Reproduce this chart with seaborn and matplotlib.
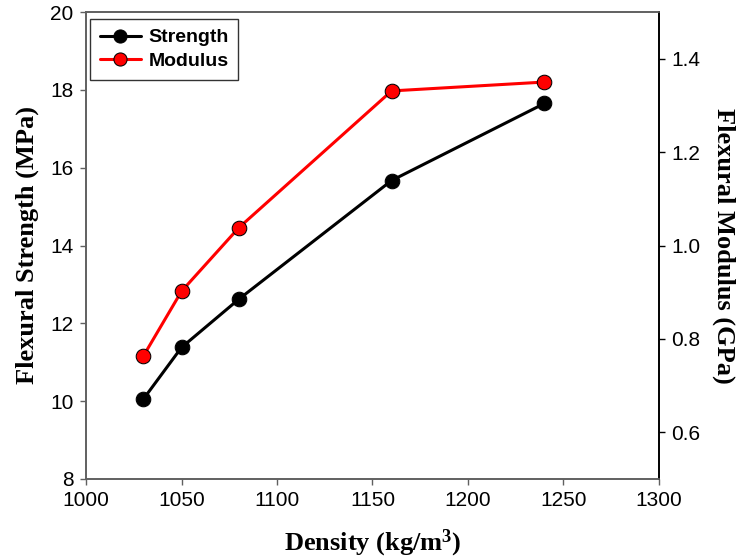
import matplotlib
matplotlib.use("Agg")
import matplotlib.pyplot as plt
import seaborn as sns
import pandas as pd

density = [1030, 1050, 1080, 1160, 1240]
strength = [10.05, 11.38, 12.62, 15.67, 17.65]
modulus = [0.763, 0.902, 1.038, 1.331, 1.350]

sns.set_style("ticks")
plt.rcParams['font.family'] = ['Liberation Sans', 'DejaVu Sans']
plt.rcParams['mathtext.fontset'] = 'custom'
plt.rcParams['mathtext.rm'] = 'Liberation Serif:bold'
plt.rcParams['mathtext.it'] = 'Liberation Serif:bold'
plt.rcParams['mathtext.bf'] = 'Liberation Serif:bold'
plt.rcParams['text.color'] = 'black'
plt.rcParams['axes.labelcolor'] = 'black'

fig = plt.figure(figsize=(7.38, 5.6), dpi=100)
ax = fig.add_axes([86/738, 1-479/560, 573/738, 467/560])
ax2 = ax.twinx()

df = pd.DataFrame({"Density": density, "Strength": strength, "Modulus": modulus})

sns.lineplot(data=df, x="Density", y="Strength", ax=ax, color="black", lw=2.2,
             marker="o", markersize=10.5, markerfacecolor="black", markeredgecolor="black",
             label="Strength", legend=False)
sns.lineplot(data=df, x="Density", y="Modulus", ax=ax2, color="#ff0000", lw=2.2,
             marker="o", markersize=10.5, markerfacecolor="#ff0000", markeredgecolor="black",
             label="Modulus", legend=False)

ax.set_xlim(1000, 1300)
ax.set_ylim(8, 20)
ax2.set_ylim(0.5, 1.5)
ax.set_xticks(range(1000, 1301, 50))
ax.set_yticks(range(8, 21, 2))
ax2.set_yticks([0.6, 0.8, 1.0, 1.2, 1.4])
ax2.set_yticklabels(["0.6", "0.8", "1.0", "1.2", "1.4"])

for a in (ax, ax2):
    a.tick_params(direction="out", length=4, width=1, labelsize=15, pad=5)
    for s in a.spines.values():
        s.set_linewidth(1.2)
        s.set_color("#606060")
    a.spines["right"].set_color("black")
    a.spines["top"].set_visible(True)
    a.spines["right"].set_visible(True)

ax.tick_params(colors="#606060", labelcolor="black")
ax2.tick_params(colors="black", labelcolor="black")

lab = dict(fontfamily="Liberation Serif", fontweight="bold", fontsize=19, color="black")
ax.set_xlabel("Density (kg/m$^3$)", labelpad=12, **lab)
ax.set_ylabel("Flexural Strength (MPa)", labelpad=8, **lab)
ax2.set_ylabel("Flexural Modulus (GPa)", rotation=270, labelpad=25, **lab)

h1, l1 = ax.get_legend_handles_labels()
h2, l2 = ax2.get_legend_handles_labels()
leg = ax2.legend(h1 + h2, l1 + l2, loc="upper left", bbox_to_anchor=(0.007, 0.985),
                 borderaxespad=0, frameon=True, fancybox=False, edgecolor="black",
                 prop=dict(family="Liberation Sans", weight="bold", size=14),
                 handlelength=2.1, borderpad=0.5, labelspacing=0.3, handletextpad=0.4,
                 markerscale=0.9)
leg.get_frame().set_linewidth(1.0)
for t in leg.get_texts():
    t.set_color("black")

fig.savefig("out.png", dpi=100)
